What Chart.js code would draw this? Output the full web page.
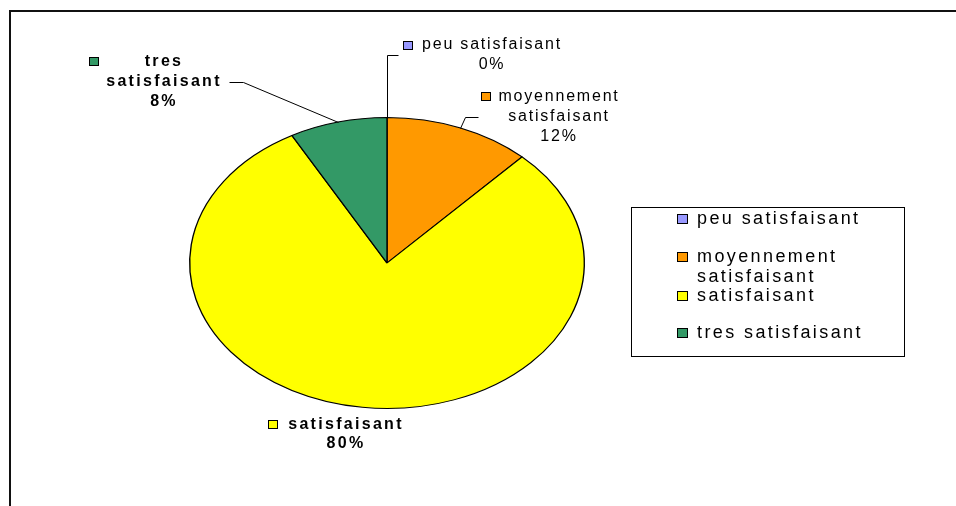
<!DOCTYPE html>
<html>
<head>
<meta charset="utf-8">
<script src="https://cdn.jsdelivr.net/npm/chart.js@4.4.0/dist/chart.umd.min.js"></script>
<style>
  html, body { margin: 0; padding: 0; background: #fff; }
</style>
</head>
<body>
<canvas id="myChart" width="956" height="506"></canvas>
<script>
// data
const categories = ['peu satisfaisant', 'moyennement satisfaisant', 'satisfaisant', 'tres satisfaisant'];
const percentValues = [0, 12, 80, 8];
const sliceColors = ['#9999FF', '#FF9900', '#FFFF00', '#339966'];

// the pie in the picture is an ellipse: 198 wide radius, 146 high radius
const stretchX = 198 / 146;

// where each slice label sits (centre x of text, first line y, square, leader bends)
const labelLayout = [
  { cx: 492, y: 45, lineGap: 20, split: false, bold: false, box: [403, 41], leader: (p) => [[p.x, p.y], [p.x, 55], [398, 55]] },
  { cx: 559, y: 97, lineGap: 20, split: true, bold: false, box: [481, 92], leader: (p) => [[p.x, p.y], [465, 117], [478, 117]] },
  { cx: 346, y: 425, lineGap: 19, split: false, bold: true, box: [268, 420], leader: null },
  { cx: 164, y: 62, lineGap: 20, split: true, bold: true, box: [89, 57], leader: (p) => [[p.x, p.y], [243, 82], [229, 82]] }
];

const getData = () => {
  return {
    labels: categories,
    datasets: [{
      data: percentValues,
      backgroundColor: sliceColors,
      borderColor: '#000',
      borderWidth: 1,
      hoverOffset: 0,
      offset: 0
    }]
  };
};

// outer frame, only top and left sides show in the picture
const framePlugin = {
  id: 'frame',
  beforeDraw(chart) {
    const ctx = chart.ctx;
    ctx.save();
    ctx.fillStyle = '#fff';
    ctx.fillRect(0, 0, chart.width, chart.height);
    ctx.strokeStyle = '#111';
    ctx.lineWidth = 2;
    ctx.beginPath();
    ctx.moveTo(10, chart.height);
    ctx.lineTo(10, 11);
    ctx.lineTo(chart.width, 11);
    ctx.stroke();
    ctx.restore();
  }
};

// squash the circle into the ellipse of the original
const stretchPlugin = {
  id: 'stretch',
  beforeDatasetsDraw(chart) {
    const arc = chart.getDatasetMeta(0).data[0];
    const ctx = chart.ctx;
    ctx.save();
    ctx.translate(arc.x, arc.y);
    ctx.scale(stretchX, 1);
    ctx.translate(-arc.x, -arc.y);
  },
  afterDatasetsDraw(chart) {
    chart.ctx.restore();
  }
};

const drawSquare = (ctx, x, y, w, h, color) => {
  ctx.fillStyle = color;
  ctx.fillRect(x, y, w, h);
  ctx.strokeStyle = '#000';
  ctx.lineWidth = 1;
  ctx.strokeRect(x + 0.5, y + 0.5, w - 1, h - 1);
};

const labelPlugin = {
  id: 'sliceLabels',
  afterDraw(chart) {
    const ctx = chart.ctx;
    const meta = chart.getDatasetMeta(0);
    ctx.save();
    meta.data.forEach((arc, i) => {
      const lay = labelLayout[i];
      const mid = (arc.startAngle + arc.endAngle) / 2;
      const p = {
        x: arc.x + arc.outerRadius * stretchX * Math.cos(mid),
        y: arc.y + arc.outerRadius * Math.sin(mid)
      };
      if (lay.leader) {
        // snap to half pixels so the 1px line stays crisp
        const pts = lay.leader(p).map((q) => [Math.round(q[0]) + 0.5, Math.round(q[1]) + 0.5]);
        ctx.strokeStyle = '#000';
        ctx.lineWidth = 1;
        ctx.beginPath();
        pts.forEach((q, k) => k === 0 ? ctx.moveTo(q[0], q[1]) : ctx.lineTo(q[0], q[1]));
        ctx.stroke();
      }
      const lines = lay.split ? categories[i].split(' ') : [categories[i]];
      lines.push(percentValues[i] + '%');
      drawSquare(ctx, lay.box[0], lay.box[1], 10, 9, sliceColors[i]);
      ctx.fillStyle = '#000';
      ctx.font = (lay.bold ? 'bold 16px' : '16px') + ' "Liberation Sans", Arial, sans-serif';
      ctx.letterSpacing = lay.bold ? '2.3px' : '1.8px';
      ctx.textAlign = 'center';
      ctx.textBaseline = 'middle';
      lines.forEach((t, k) => {
        ctx.fillText(t, lay.cx, lay.y + k * lay.lineGap);
      });
    });
    ctx.restore();
  }
};

// legend box on the right
const legendPlugin = {
  id: 'boxLegend',
  afterDraw(chart) {
    const ctx = chart.ctx;
    const left = 631, top = 207, right = 904, bottom = 356;
    const rowY = [219, 257, 296, 333];
    ctx.save();
    ctx.strokeStyle = '#000';
    ctx.lineWidth = 1;
    ctx.strokeRect(left + 0.5, top + 0.5, right - left, bottom - top);
    ctx.font = '18px "Liberation Sans", Arial, sans-serif';
    ctx.letterSpacing = '2.4px';
    ctx.textAlign = 'left';
    ctx.textBaseline = 'middle';
    const maxW = right - 697 - 4;
    categories.forEach((name, i) => {
      // wrap words that do not fit in the box
      const words = name.split(' ');
      const lines = [];
      let cur = '';
      words.forEach((w) => {
        const test = cur ? cur + ' ' + w : w;
        if (cur && ctx.measureText(test).width > maxW) {
          lines.push(cur);
          cur = w;
        } else {
          cur = test;
        }
      });
      lines.push(cur);
      drawSquare(ctx, 677, rowY[i] - 5, 11, 10, sliceColors[i]);
      ctx.fillStyle = '#000';
      lines.forEach((t, k) => ctx.fillText(t, 697, rowY[i] + k * 20));
    });
    ctx.restore();
  }
};

window.onload = () => {
  new Chart(document.getElementById('myChart'), {
    type: 'pie',
    data: getData(),
    options: {
      responsive: false,
      animation: false,
      devicePixelRatio: 1,
      layout: { padding: { top: 117, bottom: 97, left: 241, right: 423 } },
      plugins: {
        legend: { display: false },
        tooltip: { enabled: false }
      }
    },
    plugins: [framePlugin, stretchPlugin, labelPlugin, legendPlugin]
  });
};
</script>
</body>
</html>
